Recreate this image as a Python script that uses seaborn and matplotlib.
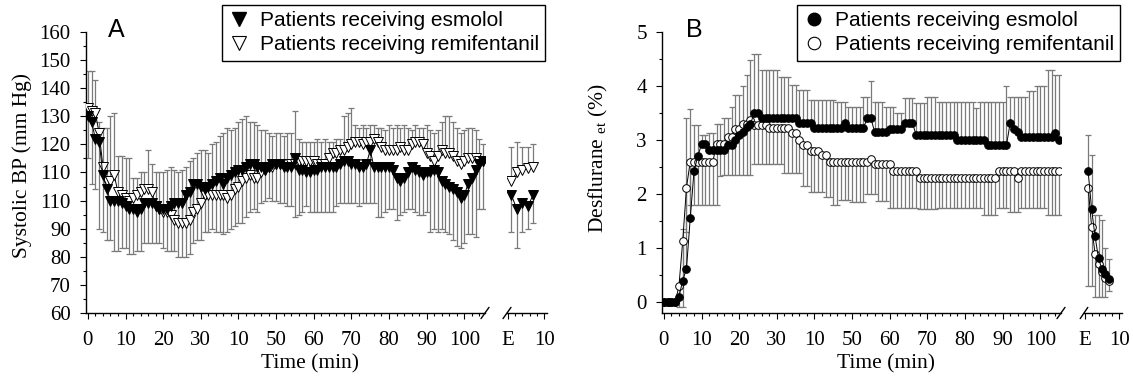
import numpy as np
import pandas as pd
import matplotlib
matplotlib.use("Agg")
import matplotlib.pyplot as plt
from matplotlib.lines import Line2D
from matplotlib.ticker import MultipleLocator
import seaborn as sns

sns.set_style("ticks", {"axes.edgecolor": "black", "xtick.color": "black",
                        "ytick.color": "black", "text.color": "black",
                        "axes.labelcolor": "black"})
plt.rcParams["font.family"] = "Liberation Serif"
plt.rcParams["mathtext.default"] = "regular"

# ===== data =====
time = np.arange(106)            # minutes of maintenance
e_time_a = [1, 2.5, 4, 5.5, 7]   # minutes after extubation (panel A)
e_time_b = [1, 2, 3, 4, 5, 6, 7] # minutes after extubation (panel B)

x_labels = ["0", "10", "20", "30", "10", "50", "60", "70", "80", "90", "100"]
e_labels = ["E", "10"]
sbp_ticks = [60, 70, 80, 90, 100, 110, 120, 130, 140, 150, 160]
sbp_labels = ["60", "70", "80", "90", "110", "110", "120", "130", "140", "150", "160"]
des_ticks = [0, 1, 2, 3, 4, 5]

legend_labels = ["Patients receiving esmolol", "Patients receiving remifentanil"]

# Panel A: systolic BP (mm Hg)
sbp_esmolol = [130, 128, 122, 121, 109, 104, 100, 100, 100, 99,
               98, 97, 97, 96, 97, 99, 99, 99, 98, 97,
               97, 97, 98, 99, 99, 99, 102, 103, 106, 106,
               105, 104, 105, 106, 107, 108, 106, 108, 109, 110,
               111, 111, 112, 113, 113, 112, 112, 111, 112, 113,
               113, 113, 112, 112, 112, 115, 111, 111, 110, 110,
               111, 111, 112, 112, 112, 112, 112, 113, 114, 114,
               113, 113, 112, 112, 113, 118, 112, 112, 112, 112,
               112, 111, 108, 107, 108, 110, 112, 111, 110, 109,
               110, 110, 111, 110, 107, 106, 105, 104, 103, 101,
               102, 106, 108, 111, 113, 114]
sbp_esmolol_low = [115, 106, 104, 90, 89, 86, 86, 82, 82, 83,
                   83, 81, 81, 82, 82, 85, 85, 85, 85, 85,
                   83, 82, 82, 82, 80, 80, 80, 81, 85, 86,
                   86, 89, 89, 90, 89, 89, 88, 89, 90, 91,
                   92, 92, 94, 96, 97, 96, 99, 100, 101, 100,
                   100, 99, 99, 98, 98, 94, 95, 96, 98, 96,
                   96, 96, 96, 96, 96, 96, 98, 99, 99, 99,
                   99, 99, 98, 99, 99, 99, 99, 94, 94, 96,
                   97, 97, 93, 95, 96, 97, 97, 96, 95, 95,
                   96, 89, 90, 89, 90, 89, 88, 86, 84, 83,
                   85, 88, 88, 87, 97, 97]
sbp_remi = [133, 132, 131, 124, 112, 107, 107, 109, 103, 102,
            101, 100, 101, 102, 103, 104, 104, 103, 98, 97,
            96, 96, 95, 93, 92, 92, 92, 93, 96, 97,
            99, 102, 102, 102, 102, 102, 102, 101, 102, 104,
            105, 107, 108, 109, 108, 108, 110, 111, 112, 112,
            113, 113, 113, 113, 113, 113, 114, 114, 114, 114,
            114, 113, 113, 113, 115, 117, 117, 118, 118, 119,
            120, 121, 121, 120, 121, 121, 122, 121, 119, 118,
            118, 118, 118, 119, 118, 118, 120, 121, 121, 120,
            117, 116, 114, 116, 118, 117, 117, 116, 114, 113,
            114, 115, 115, 115, 114, 114]
sbp_remi_high = [146, 146, 143, 128, 126, 126, 130, 131, 116, 116,
                 115, 115, 108, 108, 110, 110, 118, 113, 110, 110,
                 110, 111, 112, 111, 110, 111, 112, 114, 115, 117,
                 118, 118, 117, 120, 121, 123, 124, 126, 125, 126,
                 128, 129, 130, 128, 128, 127, 125, 125, 124, 123,
                 124, 124, 123, 124, 124, 132, 122, 121, 121, 121,
                 121, 122, 121, 122, 121, 121, 122, 122, 130, 131,
                 133, 127, 126, 127, 126, 127, 127, 126, 126, 125,
                 127, 126, 127, 126, 127, 126, 125, 127, 126, 126,
                 127, 125, 124, 125, 128, 130, 130, 128, 126, 124,
                 125, 126, 126, 125, 122, 120]
sbp_e_esmolol = [102, 97, 99, 98, 102]
sbp_e_esmolol_low = [89, 83, 89, 90, 92]
sbp_e_remi = [107, 110, 111, 111.5, 112]
sbp_e_remi_high = [119, 121, 119, 119, 120]

# Panel B: end-tidal desflurane (%)
des_esmolol = [0, 0, 0, 0, 0.1, 0.4, 0.62, 1.55, 2.42, 2.7,
               2.92, 2.92, 2.82, 2.82, 2.82, 2.82, 2.82, 2.9, 2.9, 3.0,
               3.1, 3.15, 3.25, 3.3, 3.5, 3.5, 3.41, 3.41, 3.41, 3.41,
               3.41, 3.41, 3.41, 3.41, 3.41, 3.41, 3.32, 3.32, 3.32, 3.32,
               3.22, 3.22, 3.22, 3.22, 3.22, 3.22, 3.22, 3.22, 3.31, 3.22,
               3.22, 3.22, 3.22, 3.22, 3.4, 3.4, 3.15, 3.15, 3.15, 3.15,
               3.2, 3.2, 3.2, 3.2, 3.32, 3.32, 3.32, 3.1, 3.1, 3.1,
               3.1, 3.1, 3.1, 3.1, 3.1, 3.1, 3.1, 3.1, 3.0, 3.0,
               3.0, 3.0, 3.0, 3.0, 3.0, 3.0, 2.9, 2.9, 2.9, 2.9,
               2.9, 2.9, 3.32, 3.2, 3.15, 3.05, 3.05, 3.05, 3.05, 3.05,
               3.05, 3.05, 3.05, 3.05, 3.13, 3.0]
des_esmolol_high = [0, 0, 0, 0, 0.1, 1.35, 3.41, 3.58, 3.28, 3.28,
                    3.1, 3.1, 3.13, 3.13, 3.3, 3.3, 3.41, 3.41, 3.62, 3.84,
                    3.84, 4.0, 4.2, 4.48, 4.6, 4.6, 4.3, 4.3, 4.3, 4.3,
                    4.3, 4.17, 4.17, 4.17, 4.02, 4.02, 3.93, 3.93, 3.93, 3.74,
                    3.74, 3.74, 3.74, 3.74, 3.74, 3.74, 3.71, 3.71, 3.71, 3.62,
                    3.62, 3.62, 3.62, 3.8, 3.8, 4.1, 3.71, 3.71, 3.71, 3.62,
                    3.62, 3.62, 3.5, 3.5, 3.78, 3.78, 3.78, 3.69, 3.69, 3.69,
                    3.8, 3.8, 3.8, 3.71, 3.71, 3.71, 3.71, 3.71, 3.71, 3.71,
                    3.71, 3.71, 3.71, 3.6, 3.7, 3.7, 3.7, 3.7, 3.7, 3.7,
                    3.7, 4.0, 3.8, 3.8, 3.8, 3.8, 3.8, 3.9, 3.9, 4.0,
                    4.0, 4.0, 4.3, 4.3, 4.2, 4.2]
des_remi = [0, 0, 0, 0, 0.3, 1.13, 2.12, 2.6, 2.6, 2.6,
            2.6, 2.6, 2.6, 2.6, 2.92, 2.92, 2.92, 3.05, 3.05, 3.2,
            3.2, 3.3, 3.3, 3.38, 3.28, 3.28, 3.28, 3.28, 3.22, 3.22,
            3.22, 3.22, 3.22, 3.22, 3.13, 3.13, 3.0, 2.9, 2.9, 2.8,
            2.8, 2.8, 2.73, 2.73, 2.6, 2.6, 2.6, 2.6, 2.6, 2.6,
            2.6, 2.6, 2.6, 2.6, 2.6, 2.65, 2.55, 2.55, 2.55, 2.55,
            2.55, 2.42, 2.42, 2.42, 2.42, 2.42, 2.42, 2.42, 2.3, 2.3,
            2.3, 2.3, 2.3, 2.3, 2.3, 2.3, 2.3, 2.3, 2.3, 2.3,
            2.3, 2.3, 2.3, 2.3, 2.3, 2.3, 2.3, 2.3, 2.3, 2.42,
            2.42, 2.42, 2.42, 2.42, 2.3, 2.42, 2.42, 2.42, 2.42, 2.42,
            2.42, 2.42, 2.42, 2.42, 2.42, 2.42]
des_remi_low = [0, 0, 0, 0, -0.08, -0.08, 1.3, 1.8, 1.8, 1.8,
                1.8, 1.8, 1.8, 1.8, 1.8, 2.33, 2.35, 2.35, 2.35, 2.35,
                2.35, 2.35, 2.35, 2.35, 2.55, 2.55, 2.55, 2.55, 2.55, 2.55,
                2.55, 2.55, 2.4, 2.4, 2.4, 2.4, 2.4, 2.15, 2.15, 2.03,
                2.03, 2.03, 2.03, 1.94, 1.94, 1.8, 1.8, 1.9, 1.9, 1.9,
                1.85, 1.85, 1.85, 1.85, 2.0, 2.0, 2.0, 1.88, 1.88, 1.88,
                1.75, 1.75, 1.75, 1.75, 1.75, 1.75, 1.75, 1.75, 1.72, 1.72,
                1.72, 1.72, 1.72, 1.75, 1.75, 1.75, 1.75, 1.75, 1.75, 1.75,
                1.75, 1.75, 1.75, 1.75, 1.75, 1.62, 1.62, 1.62, 1.62, 1.75,
                1.75, 1.75, 1.66, 1.66, 1.66, 1.75, 1.75, 1.75, 1.75, 1.75,
                1.75, 1.75, 1.62, 1.62, 1.62, 1.62]
des_e_esmolol = [2.42, 1.72, 1.22, 0.81, 0.61, 0.52, 0.42]
des_e_esmolol_high = [3.1, 2.72, 1.62, 1.62, 1.53, 1.0, 0.8]
des_e_remi = [2.12, 1.4, 0.9, 0.7, 0.55, 0.45, 0.4]
des_e_remi_low = [0.3, 0.3, 0.1, 0.1, 0.1, 0.1, 0.2]

BAR = "#7a7a7a"
W, H = 1133, 381


def draw_series(ax, t, mean, bar_end, marker, face, ms):
    t = np.asarray(t, float)
    mean = np.asarray(mean, float)
    end = np.asarray(bar_end, float)
    has = np.abs(end - mean) > 1e-9
    ax.vlines(t[has], mean[has], end[has], color=BAR, lw=0.9, zorder=1)
    ax.plot(t[has], end[has], ls="none", marker="_", markersize=5,
            markeredgewidth=0.9, color=BAR, zorder=1)
    df = pd.DataFrame({"t": t, "v": mean})
    sns.lineplot(data=df, x="t", y="v", ax=ax, color="black", linewidth=0.7,
                 marker=marker, markersize=ms, markerfacecolor=face,
                 markeredgecolor="black", markeredgewidth=0.7,
                 estimator=None, sort=False, legend=False, zorder=3)
    ax.set_xlabel("")
    ax.set_ylabel("")


def setup_main(ax, ylim, yticks, ylabels, yminor):
    ax.set_xlim(-0.5, 105.5)
    ax.set_ylim(*ylim)
    ax.set_xticks(range(0, 101, 10))
    ax.set_xticklabels(x_labels)
    ax.xaxis.set_minor_locator(MultipleLocator(2))
    ax.set_yticks(yticks)
    ax.set_yticklabels(ylabels)
    ax.yaxis.set_minor_locator(MultipleLocator(yminor))
    for s in ["top", "right"]:
        ax.spines[s].set_visible(False)
    for s in ["left", "bottom"]:
        ax.spines[s].set_linewidth(1.0)
    ax.tick_params(which="major", length=4, width=0.8, labelsize=15)
    ax.tick_params(which="minor", length=2.5, width=0.8)
    ax.tick_params(axis="x", pad=9)
    ax.tick_params(axis="y", pad=7)
    ax.plot([0.99, 1.01], [-0.02, 0.02], transform=ax.transAxes,
            color="black", lw=1, clip_on=False)


def setup_e(ax, ylim):
    ax.set_xlim(-0.2, 10.8)
    ax.set_ylim(*ylim)
    ax.set_xticks([0, 10])
    ax.set_xticklabels(e_labels)
    ax.xaxis.set_minor_locator(MultipleLocator(2))
    ax.set_yticks([])
    for s in ["top", "right", "left"]:
        ax.spines[s].set_visible(False)
    ax.spines["bottom"].set_linewidth(1.0)
    ax.tick_params(which="major", length=4, width=0.8, labelsize=15, pad=9)
    ax.tick_params(which="minor", length=2.5, width=0.8)
    ax.plot([-0.1, 0.1], [-0.02, 0.02], transform=ax.transAxes,
            color="black", lw=1, clip_on=False)
    ax.patch.set_alpha(0)


fig = plt.figure(figsize=(W / 100, H / 100), dpi=100)
bottom = 1 - 313 / H
height = 281 / H
ax_a = fig.add_axes([86 / W, bottom, 399 / W, height])
ax_ae = fig.add_axes([507 / W, bottom, 40 / W, height])
ax_b = fig.add_axes([662 / W, bottom, 399 / W, height])
ax_be = fig.add_axes([1084 / W, bottom, 38 / W, height])

# ===== Panel A =====
draw_series(ax_a, time, sbp_remi, sbp_remi_high, "v", "white", 7.5)
draw_series(ax_a, time, sbp_esmolol, sbp_esmolol_low, "v", "black", 7.5)
draw_series(ax_ae, e_time_a, sbp_e_remi, sbp_e_remi_high, "v", "white", 7.5)
draw_series(ax_ae, e_time_a, sbp_e_esmolol, sbp_e_esmolol_low, "v", "black", 7.5)
setup_main(ax_a, (60, 160), sbp_ticks, sbp_labels, 5)
setup_e(ax_ae, (60, 160))

# ===== Panel B =====
draw_series(ax_b, time, des_remi, des_remi_low, "o", "white", 5.5)
draw_series(ax_b, time, des_esmolol, des_esmolol_high, "o", "black", 5.5)
draw_series(ax_be, e_time_b, des_e_remi, des_e_remi_low, "o", "white", 5.5)
draw_series(ax_be, e_time_b, des_e_esmolol, des_e_esmolol_high, "o", "black", 5.5)
setup_main(ax_b, (-0.2, 5), des_ticks, [str(v) for v in des_ticks], 0.5)
setup_e(ax_be, (-0.2, 5))

# ===== labels =====
fig.text(22 / W, 1 - 165 / H, "Systolic BP (mm Hg)", rotation=90,
         ha="center", va="center", fontsize=15.5)
fig.text(598 / W, 1 - 158 / H, r"Desflurane $_{\mathregular{et}}$ (%)",
         rotation=90, ha="center", va="center", fontsize=15.5)
fig.text(310 / W, 1 - 364 / H, "Time (min)", ha="center", va="center", fontsize=15.5)
fig.text(886 / W, 1 - 364 / H, "Time (min)", ha="center", va="center", fontsize=15.5)
fig.text(116 / W, 1 - 30 / H, "A", family="Liberation Sans", fontsize=18,
         ha="center", va="center")
fig.text(694 / W, 1 - 30 / H, "B", family="Liberation Sans", fontsize=18,
         ha="center", va="center")


def add_legend(marker, ms, right, top):
    handles = [Line2D([], [], ls="none", marker=marker, markersize=ms,
                      markerfacecolor="black", markeredgecolor="black"),
               Line2D([], [], ls="none", marker=marker, markersize=ms,
                      markerfacecolor="white", markeredgecolor="black",
                      markeredgewidth=0.8)]
    leg = fig.legend(handles, legend_labels, loc="upper right",
                     bbox_to_anchor=(right / W, 1 - top / H),
                     frameon=True, fancybox=False, edgecolor="black",
                     framealpha=1, prop={"family": "Liberation Sans", "size": 15},
                     handlelength=1.0, handletextpad=0.5, borderpad=0.3,
                     labelspacing=0.25, borderaxespad=0)
    leg.get_frame().set_linewidth(1.0)


add_legend("v", 10, 545, 5)
add_legend("o", 9, 1120, 5)

fig.savefig("out.png", dpi=100)
